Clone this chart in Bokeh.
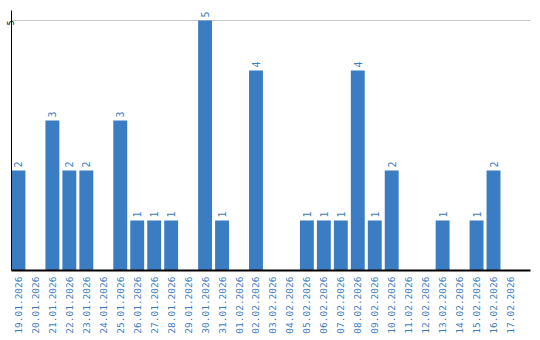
import math
from bokeh.plotting import figure
from bokeh.models import ColumnDataSource, FixedTicker, Range1d
from bokeh.core.properties import value
from bokeh.embed import file_html
from bokeh.resources import INLINE

dates = ["19.01.2026", "20.01.2026", "21.01.2026", "22.01.2026", "23.01.2026",
         "24.01.2026", "25.01.2026", "26.01.2026", "27.01.2026", "28.01.2026",
         "29.01.2026", "30.01.2026", "31.01.2026", "01.02.2026", "02.02.2026",
         "03.02.2026", "04.02.2026", "05.02.2026", "06.02.2026", "07.02.2026",
         "08.02.2026", "09.02.2026", "10.02.2026", "11.02.2026", "12.02.2026",
         "13.02.2026", "14.02.2026", "15.02.2026", "16.02.2026", "17.02.2026"]
counts = [2, 0, 3, 2, 2, 0, 3, 1, 1, 1, 0, 5, 1, 0, 4, 0, 0, 1, 1, 1, 4, 1, 2, 0, 0, 1, 0, 1, 2, 0]
y_ticks = [5]

BLUE = "#3b7dc2"
FONT = "DejaVu Sans Mono"

xs = list(range(len(dates)))
src = ColumnDataSource(dict(x=xs, y=counts))
nz = [i for i, c in enumerate(counts) if c > 0]
lsrc = ColumnDataSource(dict(x=[xs[i] for i in nz], y=[counts[i] for i in nz],
                             lbl=[str(counts[i]) for i in nz]))

p = figure(width=540, height=340, output_backend="svg", toolbar_location=None,
           x_range=Range1d(-0.41, 30.18), y_range=Range1d(0, 5.2),
           min_border_left=0, min_border_right=10, min_border_top=10, min_border_bottom=70)
p.outline_line_color = None
p.background_fill_color = "white"

p.vbar(x="x", top="y", width=0.82, source=src, color=BLUE, line_color=None)
p.text(x="x", y="y", text="lbl", source=lsrc, angle=math.pi / 2, y_offset=-3,
       text_align="left", text_baseline="middle", text_color=BLUE,
       text_font=value(FONT), text_font_size="10px")

p.xaxis.ticker = FixedTicker(ticks=xs)
p.xaxis.major_label_overrides = {i: d for i, d in enumerate(dates)}
p.xaxis.major_label_orientation = math.pi / 2
p.xaxis.major_label_text_font = FONT
p.xaxis.major_label_text_font_size = "9.5px"
p.xaxis.major_label_text_color = BLUE
p.xaxis.major_tick_line_color = None
p.xaxis.minor_tick_line_color = None
p.xaxis.major_tick_out = 0
p.xaxis.major_tick_in = 0
p.xaxis.major_label_standoff = 6
p.xaxis.axis_line_color = "black"
p.xaxis.axis_line_width = 2

p.yaxis.ticker = FixedTicker(ticks=y_ticks)
p.yaxis.major_label_orientation = math.pi / 2
p.yaxis.major_label_text_font = FONT
p.yaxis.major_label_text_font_size = "8px"
p.yaxis.major_label_text_color = "black"
p.yaxis.major_tick_line_color = None
p.yaxis.minor_tick_line_color = None
p.yaxis.major_tick_out = 0
p.yaxis.major_tick_in = 0
p.yaxis.major_label_standoff = 1
p.yaxis.axis_line_color = "black"
p.yaxis.axis_line_width = 1

p.xgrid.grid_line_color = None
p.ygrid.ticker = FixedTicker(ticks=y_ticks)
p.ygrid.grid_line_color = "#c8c8c8"

open("out.html", "w").write(file_html(p, INLINE))
